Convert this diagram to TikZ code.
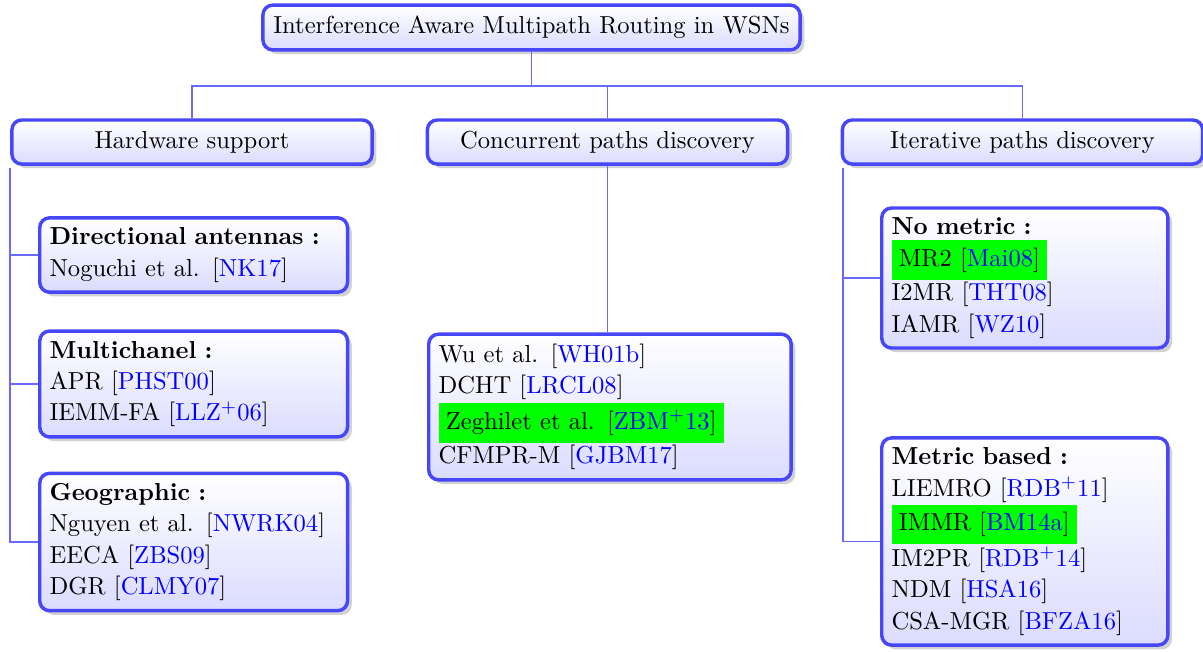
\documentclass[tikz,border=0pt]{standalone}
\usepackage{tikz}
\usetikzlibrary{shadows}
\definecolor{bordbleu}{RGB}{70,70,250}
\definecolor{lienbleu}{RGB}{105,105,250}
\newcommand{\cit}[1]{[\textcolor{blue}{#1}]}
\newcommand{\surl}[1]{\colorbox{green}{#1}}

\begin{document}
\begin{tikzpicture}[x=0.0143cm, y=-0.0143cm]
 \tikzstyle{boite}=[draw=bordbleu, line width=1.4pt, rounded corners=4pt, top color=white, bottom color=blue!14, drop shadow={shadow xshift=0.06cm, shadow yshift=-0.06cm, fill=black!35}]
 \tikzstyle{titre}=[boite, minimum width=7.68cm, minimum height=0.64cm]
 \tikzstyle{famille}=[boite, minimum width=5.15cm, minimum height=0.63cm]
 \tikzstyle{liste}=[boite, anchor=west, align=left, inner sep=4pt, font=\fontsize{10}{12.8}\selectfont]
 \tikzstyle{lien}=[draw=lienbleu, line width=0.8pt]
 \useasboundingbox (0,0) rectangle (1203,651);
 %
 \node[titre] (racine) at (531.5, 27.5) {Interference Aware Multipath Routing in WSNs};
 %
 \node[famille] (HW) at (192, 142) {Hardware support};
 \node[famille] (CPD) at (607.5, 142) {Concurrent paths discovery};
 \node[famille] (IPD) at (1022.5, 142) {Iterative paths discovery};
 %
 \node[liste, text width=4.12cm] (DA) at (38, 255) {\textbf{Directional antennas :}\\Noguchi et al. \cit{NK17}};
 \node[liste, text width=4.12cm] (MC) at (38, 384) {\textbf{Multichanel :}\\APR \cit{PHST00}\\IEMM-FA \cit{LLZ$^+$06}};
 \node[liste, text width=4.12cm] (GEO) at (38, 542) {\textbf{Geographic :}\\Nguyen et al. \cit{NWRK04}\\EECA \cit{ZBS09}\\DGR \cit{CLMY07}};
 %
 \node[liste, text width=4.90cm] (CONC) at (427, 407) {Wu et al. \cit{WH01b}\\DCHT \cit{LRCL08}\\\surl{Zeghilet et al. \cit{ZBM$^+$13}}\\CFMPR-M \cit{GJBM17}};
 %
 \node[liste, text width=3.81cm] (NM) at (880, 278) {\textbf{No metric :}\\\surl{MR2 \cit{Mai08}}\\I2MR \cit{THT08}\\IAMR \cit{WZ10}};
 \node[liste, text width=3.81cm] (MB) at (880, 541.5) {\textbf{Metric based :}\\LIEMRO \cit{RDB$^+$11}\\\surl{IMMR \cit{BM14a}}\\IM2PR \cit{RDB$^+$14}\\NDM \cit{HSA16}\\CSA-MGR \cit{BFZA16}};
 %%
 \coordinate (barre) at (531.5, 86);
 \coordinate (troncG) at (10, 168);
 \coordinate (troncD) at (843, 168);
 \draw[lien] (racine.south)--(barre);
 \draw[lien] (barre)-|(HW.north);
 \draw[lien] (barre)-|(CPD.north);
 \draw[lien] (barre)-|(IPD.north);
 \draw[lien] (troncG)|-(DA.west);
 \draw[lien] (troncG)|-(MC.west);
 \draw[lien] (troncG)|-(GEO.west);
 \draw[lien] (CPD.south)--(CPD.south |- CONC.north);
 \draw[lien] (troncD)|-(NM.west);
 \draw[lien] (troncD)|-(MB.west);
\end{tikzpicture}
\end{document}
